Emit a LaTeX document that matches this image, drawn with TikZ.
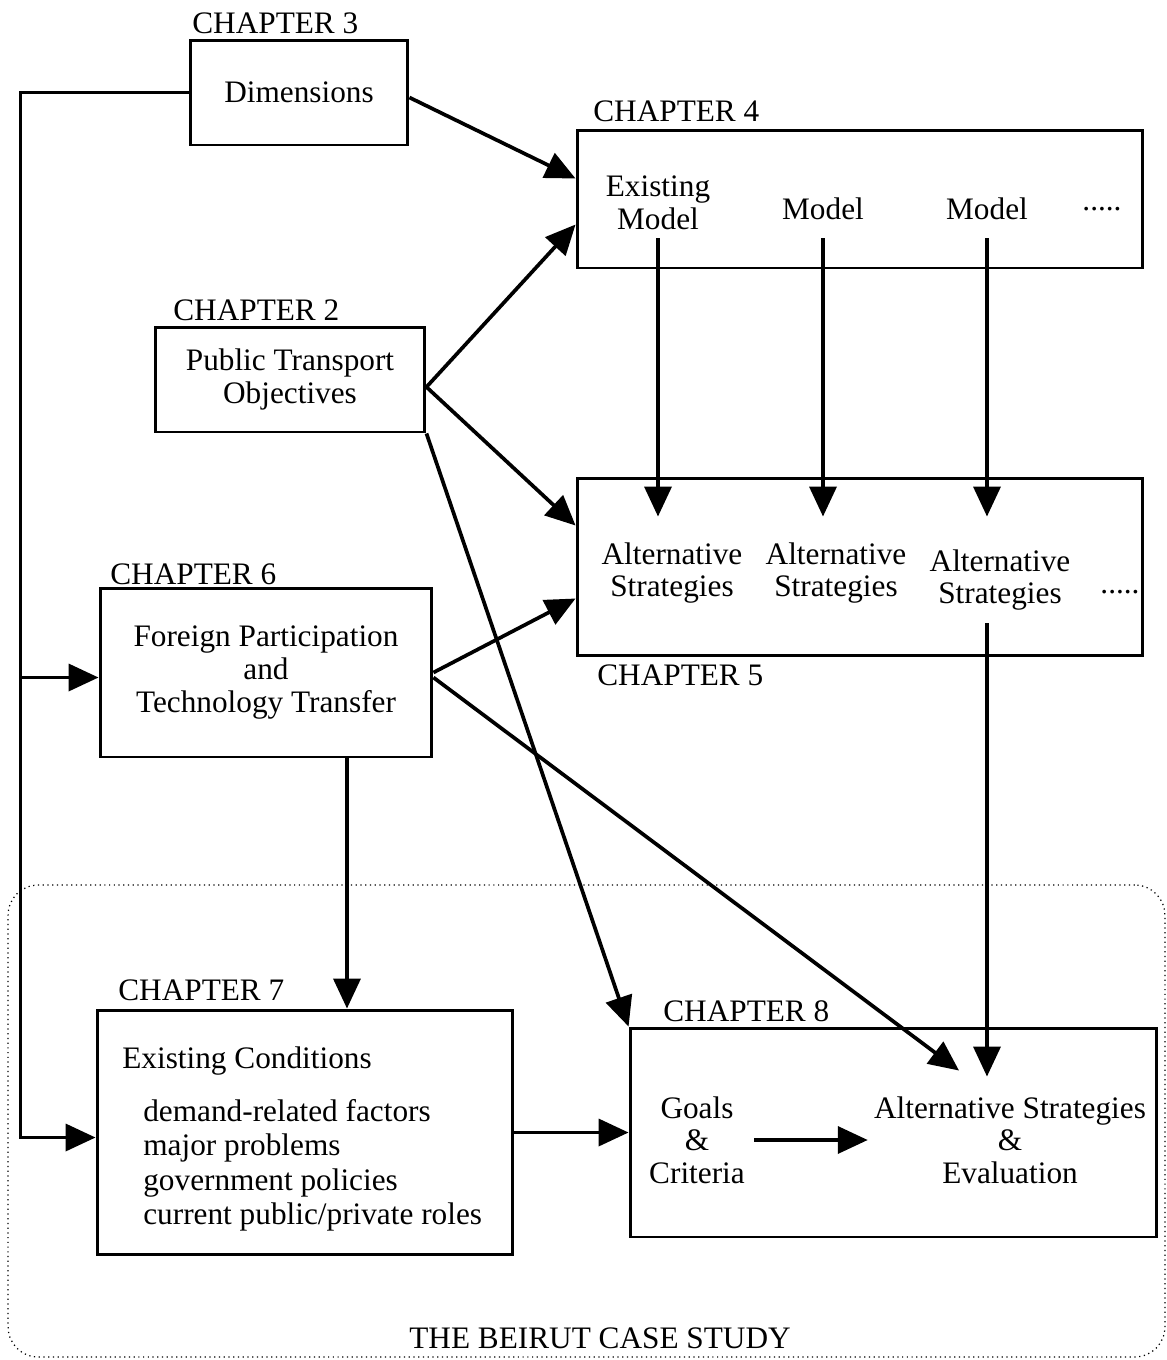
\documentclass[tikz,border=0pt]{standalone}
\usepackage{fontspec}
\setmainfont{Liberation Serif}
\usepackage{tikz}
\usetikzlibrary{arrows.meta,positioning}

\begin{document}
\begin{tikzpicture}[
  x=0.02cm, y=-0.02cm,
  font=\fontsize{17.8}{18.6}\selectfont,
  box/.style={rectangle, draw=black, line width=1.7pt, align=center, inner sep=0pt},
  txt/.style={inner sep=0pt, align=center},
  chap/.style={inner sep=0pt, anchor=base west},
  arr/.style={-{Triangle[length=0.6cm,width=0.54cm]}, line width=2.1pt},
  frame/.style={draw, dotted, line width=0.7pt, rounded corners=0.6cm, inner sep=0pt},
]
  \useasboundingbox (0,0) rectangle (1167,1360);
  % boxes
  \node[box, minimum width=4.36cm, minimum height=2.1cm](dim) at (299,92.5){Dimensions};
  \node[box, minimum width=11.32cm, minimum height=2.76cm](mdl) at (860,199){};
  \node[box, minimum width=5.4cm, minimum height=2.1cm](obj) at (290,379.5){Public Transport\\Objectives};
  \node[box, minimum width=11.32cm, minimum height=3.56cm](alt) at (860,567){};
  \node[box, minimum width=6.64cm, minimum height=3.38cm](frn) at (266,672.5){Foreign Participation\\and\\Technology Transfer};
  \node[box, minimum width=8.32cm, minimum height=4.9cm](cnd) at (305,1132.5){};
  \node[box, minimum width=10.54cm, minimum height=4.18cm](eva) at (893.5,1132.5){};
  \node[frame, minimum width=23.14cm, minimum height=9.44cm](study) at (586.5,1121){};
  % chapter labels
  \node[chap](l3) at (192,33){CHAPTER 3};
  \node[chap](l4) at (593,121){CHAPTER 4};
  \node[chap](l2) at (173,320){CHAPTER 2};
  \node[chap](l6) at (110,584){CHAPTER 6};
  \node[chap](l5) at (597,685){CHAPTER 5};
  \node[chap](l7) at (118,1000){CHAPTER 7};
  \node[chap](l8) at (663,1021){CHAPTER 8};
  \node[inner sep=0pt, anchor=base](lb) at (600,1348){THE BEIRUT CASE STUDY};
  % box contents
  \node[txt](m1) at (658,203){Existing\\Model};
  \node[txt](m2) at (823,209){Model};
  \node[txt](m3) at (987,209){Model};
  \node[txt](d4) at (1102,209){.....};
  \node[txt](a1) at (672,573){Alternative\\Strategies};
  \node[txt](a2) at (836,573){Alternative\\Strategies};
  \node[txt](a3) at (1000,580){Alternative\\Strategies};
  \node[txt](d5) at (1120,592){.....};
  \node[txt, anchor=base west](ec) at (122,1068){Existing Conditions};
  \node[txt, align=left, anchor=north west, font=\fontsize{17.8}{19.6}\selectfont](fac) at (143,1099)
    {demand-related factors\\major problems\\government policies\\current public/private roles};
  \node[txt](g8) at (697,1140){Goals\\\&\\Criteria};
  \node[txt](s8) at (1010,1140){Alternative Strategies\\\&\\Evaluation};
  % connectors
  \coordinate (rail) at ([xshift=-3.36cm]dim.west);
  \draw[arr] (dim.west) -- (rail) |- ([yshift=-0.1cm]cnd.west);
  \draw[arr] ([yshift=-0.1cm]rail |- frn.west) -- ([yshift=-0.1cm]frn.west);
  \draw[arr] ([yshift=-0.1cm]dim.east) -- ([yshift=-1cm]mdl.north west);
  \draw[arr] ([yshift=-0.15cm]obj.east) -- ([yshift=-1.92cm]mdl.north west);
  \draw[arr] ([yshift=-0.15cm]obj.east) -- ([yshift=-0.98cm]alt.north west);
  \draw[arr] (obj.south east) -- (eva.north west);
  \foreach \m in {m1,m2,m3}
    \draw[arr] ([yshift=0.62cm]\m |- mdl.south) -- ([yshift=-0.8cm]\m |- alt.north);
  \draw[arr] ([yshift=0.68cm]m3 |- alt.south) -- ([yshift=-1cm]m3 |- eva.north);
  \draw[arr] (frn.east) -- ([yshift=-2.44cm]alt.north west);
  \draw[arr] ([yshift=-0.1cm]frn.east) -- ([xshift=-0.56cm,yshift=-0.88cm]m3 |- eva.north);
  \draw[arr] ([xshift=1.62cm]frn.south) -- ([xshift=1.62cm]frn.south |- cnd.north);
  \draw[arr] (cnd.east) -- (cnd.east -| eva.west);
  \draw[arr, shorten <=0.18cm, shorten >=0.12cm] (g8.east) -- (s8.west);
\end{tikzpicture}
\end{document}
